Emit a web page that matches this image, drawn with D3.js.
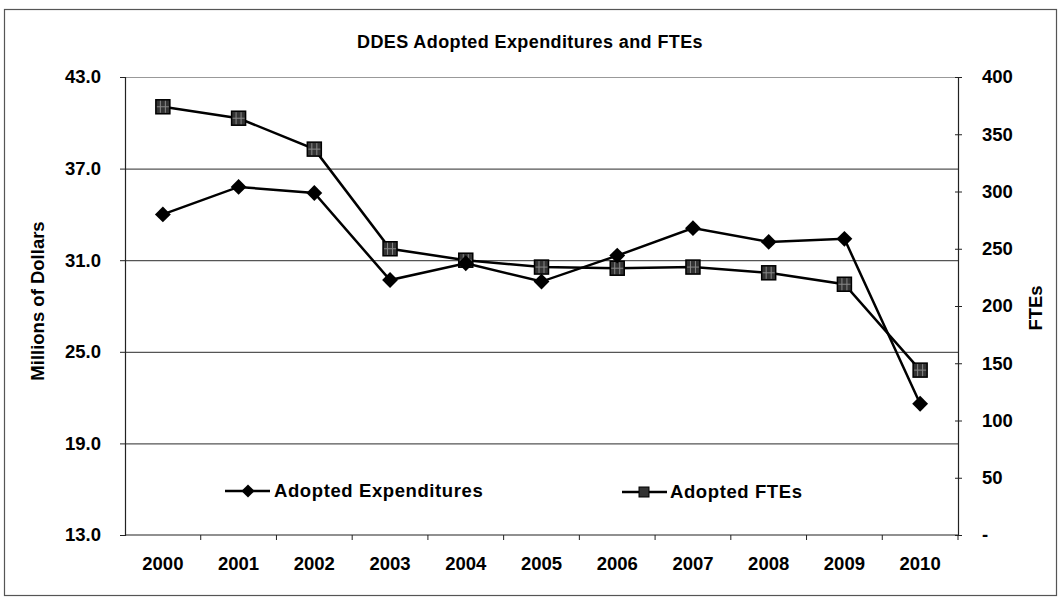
<!DOCTYPE html>
<html>
<head>
<meta charset="utf-8">
<script src="https://cdn.jsdelivr.net/npm/d3@7"></script>
<style>
  body { margin: 0; background: #fff; }
  text { font-family: "Liberation Sans", Arial, sans-serif; font-weight: bold; fill: #000; }
</style>
</head>
<body>
<script>
var years = ["2000", "2001", "2002", "2003", "2004", "2005", "2006", "2007", "2008", "2009", "2010"];
var expenditures = [34.0, 35.8, 35.4, 29.7, 30.8, 29.6, 31.3, 33.1, 32.2, 32.4, 21.6];
var ftes = [374, 364, 337, 250, 240, 234, 233, 234, 229, 219, 144];
var leftTicks = [13, 19, 25, 31, 37, 43];
var rightTicks = [0, 50, 100, 150, 200, 250, 300, 350, 400];

var width = 1060,
    height = 599;

var svg = d3.select("body").append("svg")
    .attr("width", width)
    .attr("height", height);

// outer frame
svg.append("rect")
    .attr("x", 4.5).attr("y", 9.5)
    .attr("width", 1052).attr("height", 586)
    .attr("fill", "none")
    .attr("stroke", "#555")
    .attr("stroke-width", 1.2);

var x = d3.scaleBand().domain(years).range([125, 958]).padding(0);
var yL = d3.scaleLinear().domain([13, 43]).range([535, 77]);
var yR = d3.scaleLinear().domain([0, 400]).range([535, 77]);

// gridlines
svg.append("g").selectAll("line")
    .data(leftTicks.slice(1))
    .enter().append("line")
    .attr("x1", 125).attr("x2", 958)
    .attr("y1", function(d) { return yL(d) + 0.5; })
    .attr("y2", function(d) { return yL(d) + 0.5; })
    .attr("stroke", function(d) { return d === 43 ? "#999" : "#555"; })
    .attr("stroke-width", 1.2);

// left axis
var gL = svg.append("g")
    .attr("transform", "translate(125,0)")
    .call(d3.axisLeft(yL).tickValues(leftTicks).tickSize(5).tickPadding(19)
        .tickFormat(d3.format(".1f")));
gL.selectAll("text").style("font-size", "18.5px");

// right axis
var gR = svg.append("g")
    .attr("transform", "translate(958,0)")
    .call(d3.axisRight(yR).tickValues(rightTicks).tickSize(4).tickPadding(20)
        .tickFormat(function(d) { return d === 0 ? "-" : d; }));
gR.selectAll("text").style("font-size", "18.5px");
gR.selectAll(".tick line").attr("x1", -3);

// bottom axis: ticks at category boundaries
var gB = svg.append("g").attr("transform", "translate(0,535)");
gB.append("line").attr("x1", 125).attr("x2", 958).attr("stroke", "#222").attr("stroke-width", 1.2);
gB.selectAll(".bt")
    .data(years)
    .enter().append("line")
    .attr("class", "bt")
    .attr("x1", function(d) { return x(d) + x.bandwidth(); })
    .attr("x2", function(d) { return x(d) + x.bandwidth(); })
    .attr("y1", 0).attr("y2", 5)
    .attr("stroke", "#222");
gB.selectAll(".yl")
    .data(years)
    .enter().append("text")
    .attr("class", "yl")
    .attr("x", function(d) { return x(d) + x.bandwidth() / 2; })
    .attr("y", 35)
    .attr("text-anchor", "middle")
    .style("font-size", "18.5px")
    .text(function(d) { return d; });

svg.selectAll(".domain").attr("stroke", "#222").attr("stroke-width", 1.2);
svg.selectAll(".tick line").attr("stroke", "#222");

// titles
svg.append("text")
    .attr("x", 530).attr("y", 48)
    .attr("text-anchor", "middle")
    .style("font-size", "18px")
    .style("letter-spacing", "0.4px")
    .text("DDES Adopted Expenditures and FTEs");

svg.append("text")
    .attr("transform", "translate(44,301) rotate(-90)")
    .attr("text-anchor", "middle")
    .style("font-size", "18.5px")
    .text("Millions of Dollars");

svg.append("text")
    .attr("transform", "translate(1042,308) rotate(-90)")
    .attr("text-anchor", "middle")
    .style("font-size", "18.5px")
    .text("FTEs");

function cx(i) { return x(years[i]) + x.bandwidth() / 2; }

var diamond = d3.symbol().type(d3.symbolDiamond2).size(160);

function drawSquare(g, px, py) {
    g.append("rect")
        .attr("x", px - 7).attr("y", py - 7)
        .attr("width", 14).attr("height", 14)
        .attr("fill", "#333").attr("stroke", "#000").attr("stroke-width", 1.5);
    g.append("path")
        .attr("d", "M" + (px - 2.5) + "," + (py - 6) + "V" + (py + 6) +
                   "M" + (px + 2.5) + "," + (py - 6) + "V" + (py + 6) +
                   "M" + (px - 6) + "," + py + "H" + (px + 6))
        .attr("stroke", "#888").attr("stroke-width", 1);
}

// FTE line (right axis)
var lineR = d3.line().x(function(d, i) { return cx(i); }).y(function(d) { return yR(d); });
svg.append("path")
    .datum(ftes)
    .attr("d", lineR)
    .attr("fill", "none").attr("stroke", "#000").attr("stroke-width", 2.5);
var gS = svg.append("g");
ftes.forEach(function(d, i) { drawSquare(gS, cx(i), yR(d)); });

// Expenditures line (left axis)
var lineL = d3.line().x(function(d, i) { return cx(i); }).y(function(d) { return yL(d); });
svg.append("path")
    .datum(expenditures)
    .attr("d", lineL)
    .attr("fill", "none").attr("stroke", "#000").attr("stroke-width", 2.5);
svg.selectAll(".dia")
    .data(expenditures)
    .enter().append("path")
    .attr("class", "dia")
    .attr("d", diamond)
    .attr("transform", function(d, i) { return "translate(" + cx(i) + "," + yL(d) + ")"; })
    .attr("fill", "#000");

// legend
var lg1 = svg.append("g");
lg1.append("line").attr("x1", 225).attr("x2", 270).attr("y1", 491).attr("y2", 491)
    .attr("stroke", "#000").attr("stroke-width", 2.5);
lg1.append("path").attr("d", d3.symbol().type(d3.symbolDiamond2).size(110))
    .attr("transform", "translate(248,491)");
lg1.append("text").attr("x", 274).attr("y", 497)
    .style("font-size", "18.5px").style("letter-spacing", "0.6px")
    .text("Adopted Expenditures");

var lg2 = svg.append("g");
lg2.append("line").attr("x1", 622).attr("x2", 667).attr("y1", 492).attr("y2", 492)
    .attr("stroke", "#000").attr("stroke-width", 2.5);
lg2.append("rect").attr("x", 639).attr("y", 487).attr("width", 10).attr("height", 10)
    .attr("fill", "#333").attr("stroke", "#000");
lg2.append("text").attr("x", 670).attr("y", 498)
    .style("font-size", "18.5px").style("letter-spacing", "0.6px")
    .text("Adopted FTEs");
</script>
</body>
</html>
